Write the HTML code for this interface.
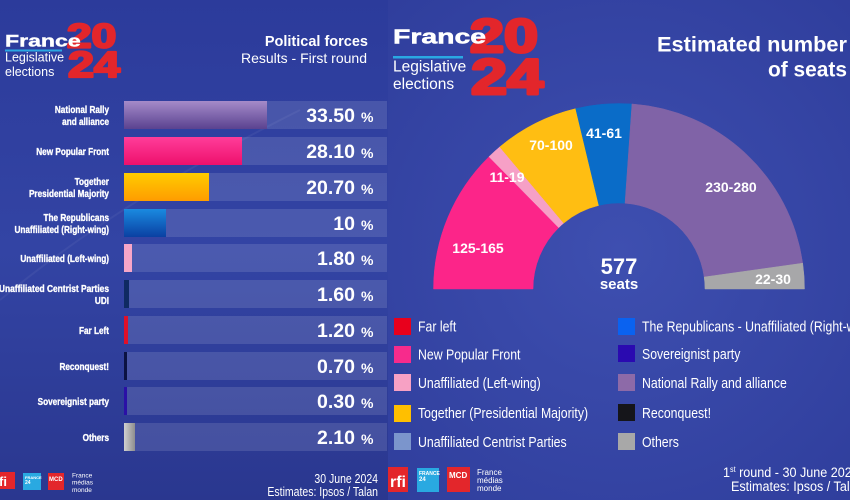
<!DOCTYPE html>
<html>
<head>
<meta charset="utf-8">
<style>
html,body{margin:0;padding:0;background:#2e3c9c;}
body{width:850px;height:500px;overflow:hidden;}
svg{display:block;}
text{font-family:"Liberation Sans",Arial,sans-serif;}
</style>
</head>
<body>
<svg width="850" height="500" viewBox="0 0 850 500" xmlns="http://www.w3.org/2000/svg">
<defs>
  <linearGradient id="bgL" x1="0" y1="0" x2="0" y2="1">
    <stop offset="0" stop-color="#2c3b9b"/>
    <stop offset="0.5" stop-color="#3344a4"/>
    <stop offset="1" stop-color="#2a378f"/>
  </linearGradient>
  <radialGradient id="bgR" cx="620" cy="250" r="420" gradientUnits="userSpaceOnUse">
    <stop offset="0" stop-color="#3e4fb0"/>
    <stop offset="1" stop-color="#2c3a98"/>
  </radialGradient>
  <linearGradient id="gNR" x1="0" y1="0" x2="0" y2="1">
    <stop offset="0" stop-color="#a58bc9"/><stop offset="1" stop-color="#5a4290"/>
  </linearGradient>
  <linearGradient id="gNPF" x1="0" y1="0" x2="0" y2="1">
    <stop offset="0" stop-color="#ff3d9a"/><stop offset="1" stop-color="#ee106c"/>
  </linearGradient>
  <linearGradient id="gTog" x1="0" y1="0" x2="0" y2="1">
    <stop offset="0" stop-color="#ffcc00"/><stop offset="1" stop-color="#ff9c00"/>
  </linearGradient>
  <linearGradient id="gLR" x1="0" y1="0" x2="0" y2="1">
    <stop offset="0" stop-color="#1a8ae0"/><stop offset="1" stop-color="#0a40a2"/>
  </linearGradient>
  <linearGradient id="gOth" x1="0" y1="0" x2="1" y2="0">
    <stop offset="0" stop-color="#d0d0d0"/><stop offset="1" stop-color="#8e8e8e"/>
  </linearGradient>
</defs>

<!-- Panels -->
<rect x="0" y="0" width="388" height="500" fill="url(#bgL)"/>
<rect x="388" y="0" width="462" height="500" fill="url(#bgR)"/>
<path d="M0,300 Q120,200 300,110" stroke="#ffffff" stroke-opacity="0.05" stroke-width="2" fill="none"/>

<!-- ===== LEFT PANEL ===== -->
<!-- Logo -->
<g font-weight="bold" fill="#e3262b" stroke="#e3262b" stroke-width="2.2" stroke-linejoin="round">
  <text transform="translate(67,47.5) scale(1.3,1)" font-size="34">20</text>
  <text transform="translate(68,77) scale(1.3,1)" font-size="36">24</text>
</g>
<text transform="translate(5,46.5) scale(1.4,1)" font-size="16.5" font-weight="bold" fill="#ffffff" stroke="#ffffff" stroke-width="0.4">France</text>
<rect x="5" y="49.5" width="57" height="2" fill="#2aa8e2"/>
<text x="5" y="61.5" font-size="12.5" fill="#ffffff">Legislative</text>
<text x="5" y="76" font-size="12.5" fill="#ffffff">elections</text>

<text x="368" y="46" font-size="14.5" font-weight="bold" fill="#ffffff" text-anchor="end">Political forces</text>
<text x="367" y="63" font-size="14" fill="#ffffff" text-anchor="end">Results - First round</text>

<!-- Tracks -->
<g fill="#ffffff" fill-opacity="0.12">
  <rect x="124" y="101" width="263" height="28"/>
  <rect x="124" y="137" width="263" height="28"/>
  <rect x="124" y="173" width="263" height="28"/>
  <rect x="124" y="209" width="263" height="28"/>
  <rect x="124" y="244" width="263" height="28"/>
  <rect x="124" y="280" width="263" height="28"/>
  <rect x="124" y="316" width="263" height="28"/>
  <rect x="124" y="352" width="263" height="28"/>
  <rect x="124" y="387" width="263" height="28"/>
  <rect x="124" y="423" width="263" height="28"/>
</g>
<!-- Bars -->
<rect x="124" y="101" width="143" height="28" fill="url(#gNR)"/>
<rect x="124" y="137" width="118" height="28" fill="url(#gNPF)"/>
<rect x="124" y="173" width="85" height="28" fill="url(#gTog)"/>
<rect x="124" y="209" width="42" height="28" fill="url(#gLR)"/>
<rect x="124" y="244" width="8" height="28" fill="#f7a6c8"/>
<rect x="124" y="280" width="5" height="28" fill="#0f2a62"/>
<rect x="124" y="316" width="4" height="28" fill="#e0102a"/>
<rect x="124" y="352" width="3" height="28" fill="#0b1242"/>
<rect x="124" y="387" width="3" height="28" fill="#2a10a6"/>
<rect x="124" y="423" width="11" height="28" fill="url(#gOth)"/>

<!-- Bar labels -->
<g font-size="10.5" font-weight="bold" fill="#ffffff" stroke="#ffffff" stroke-width="0.35" text-anchor="end">
  <text transform="translate(109,112.75) scale(0.78,1)">National Rally</text>
  <text transform="translate(109,124.75) scale(0.78,1)">and alliance</text>
  <text transform="translate(109,154.75) scale(0.78,1)">New Popular Front</text>
  <text transform="translate(109,184.75) scale(0.78,1)">Together</text>
  <text transform="translate(109,196.75) scale(0.78,1)">Presidential Majority</text>
  <text transform="translate(109,220.75) scale(0.78,1)">The Republicans</text>
  <text transform="translate(109,232.75) scale(0.78,1)">Unaffiliated (Right-wing)</text>
  <text transform="translate(109,261.75) scale(0.78,1)">Unaffiliated (Left-wing)</text>
  <text transform="translate(109,291.75) scale(0.8,1)">Unaffiliated Centrist Parties</text>
  <text transform="translate(109,303.75) scale(0.78,1)">UDI</text>
  <text transform="translate(109,333.75) scale(0.78,1)">Far Left</text>
  <text transform="translate(109,369.75) scale(0.78,1)">Reconquest!</text>
  <text transform="translate(109,404.75) scale(0.78,1)">Sovereignist party</text>
  <text transform="translate(109,440.75) scale(0.78,1)">Others</text>
</g>

<!-- Values -->
<g font-size="19.5" font-weight="bold" fill="#ffffff" text-anchor="end">
  <text x="355" y="122">33.50</text>
  <text x="355" y="158">28.10</text>
  <text x="355" y="194">20.70</text>
  <text x="355" y="230">10</text>
  <text x="355" y="265">1.80</text>
  <text x="355" y="301">1.60</text>
  <text x="355" y="337">1.20</text>
  <text x="355" y="373">0.70</text>
  <text x="355" y="408">0.30</text>
  <text x="355" y="444">2.10</text>
</g>
<g font-size="14" font-weight="bold" fill="#ffffff">
  <text x="361" y="122">%</text>
  <text x="361" y="158">%</text>
  <text x="361" y="194">%</text>
  <text x="361" y="230">%</text>
  <text x="361" y="265">%</text>
  <text x="361" y="301">%</text>
  <text x="361" y="337">%</text>
  <text x="361" y="373">%</text>
  <text x="361" y="408">%</text>
  <text x="361" y="444">%</text>
</g>

<!-- Left footer -->
<rect x="-4" y="472" width="19" height="17" fill="#e3262b"/>
<text x="-1" y="486" font-size="13" font-weight="bold" fill="#ffffff">fi</text>
<rect x="23" y="473" width="18" height="17" fill="#29a9e1"/>
<text x="25" y="479" font-size="4" font-weight="bold" fill="#ffffff">FRANCE</text>
<text x="25" y="484" font-size="5" font-weight="bold" fill="#ffffff">24</text>
<rect x="48" y="473" width="16" height="17" fill="#e3262b"/>
<text x="49" y="481" font-size="6" font-weight="bold" fill="#ffffff">MCD</text>
<g font-size="6.5" fill="#ffffff">
  <text x="72" y="477.5">France</text>
  <text x="72" y="484.5">médias</text>
  <text x="72" y="492">monde</text>
</g>
<text transform="translate(378,483) scale(0.84,1)" font-size="12.5" fill="#ffffff" text-anchor="end">30 June 2024</text>
<text transform="translate(378,496) scale(0.84,1)" font-size="12.5" fill="#ffffff" text-anchor="end">Estimates: Ipsos / Talan</text>

<!-- ===== RIGHT PANEL ===== -->
<g font-weight="bold" fill="#e3262b" stroke="#e3262b" stroke-width="3" stroke-linejoin="round">
  <text transform="translate(470,52) scale(1.3,1)" font-size="47">20</text>
  <text transform="translate(471,94) scale(1.3,1)" font-size="50">24</text>
</g>
<text transform="translate(393,43.5) scale(1.42,1)" font-size="20" font-weight="bold" fill="#ffffff" stroke="#ffffff" stroke-width="0.5">France</text>
<rect x="393" y="56" width="70" height="2.5" fill="#2aa8e2"/>
<text x="393" y="71.5" font-size="15.5" fill="#ffffff">Legislative</text>
<text x="393" y="89" font-size="15.5" fill="#ffffff">elections</text>

<text x="847" y="51.5" font-size="21" font-weight="bold" fill="#ffffff" text-anchor="end" textLength="190" lengthAdjust="spacingAndGlyphs">Estimated number</text>
<text x="847" y="76.5" font-size="21" font-weight="bold" fill="#ffffff" text-anchor="end" textLength="79" lengthAdjust="spacingAndGlyphs">of seats</text>

<!-- Hemicycle -->
<path d="M433.5,289 A185.5,185.5 0 0 1 488.98,156.69 L558.72,227.66 A86,86 0 0 0 533,289 Z" fill="#fc2589" stroke="#fc2589" stroke-width="0.5"/>
<path d="M488.98,156.69 A185.5,185.5 0 0 1 499.76,146.90 L563.72,223.12 A86,86 0 0 0 558.72,227.66 Z" fill="#f6a0c6" stroke="#f6a0c6" stroke-width="0.5"/>
<path d="M499.76,146.90 A185.5,185.5 0 0 1 575.69,108.62 L598.92,205.38 A86,86 0 0 0 563.72,223.12 Z" fill="#ffbe12" stroke="#ffbe12" stroke-width="0.5"/>
<path d="M575.69,108.62 A185.5,185.5 0 0 1 631.94,103.95 L625,203.21 A86,86 0 0 0 598.92,205.38 Z" fill="#0a6cc8" stroke="#0a6cc8" stroke-width="0.5"/>
<path d="M631.94,103.95 A185.5,185.5 0 0 1 802.70,263.18 L704.16,277.03 A86,86 0 0 0 625,203.21 Z" fill="#8063a7" stroke="#8063a7" stroke-width="0.5"/>
<path d="M802.70,263.18 A185.5,185.5 0 0 1 804.5,289 L705,289 A86,86 0 0 0 704.16,277.03 Z" fill="#a7a7a9" stroke="#a7a7a9" stroke-width="0.5"/>

<g font-size="14" font-weight="bold" fill="#ffffff" text-anchor="middle">
  <text x="478" y="253">125-165</text>
  <text x="507" y="182">11-19</text>
  <text x="551" y="150">70-100</text>
  <text x="604" y="138">41-61</text>
  <text x="731" y="192">230-280</text>
  <text x="773" y="284">22-30</text>
</g>
<text x="619" y="274" font-size="22" font-weight="bold" fill="#ffffff" text-anchor="middle">577</text>
<text x="619" y="289" font-size="15" font-weight="bold" fill="#ffffff" text-anchor="middle">seats</text>

<!-- Legend -->
<rect x="394" y="318" width="17" height="17" fill="#e8001c"/>
<rect x="394" y="346" width="17" height="17" fill="#f72b8c"/>
<rect x="394" y="374" width="17" height="17" fill="#f7a1c4"/>
<rect x="394" y="405" width="17" height="17" fill="#ffbf00"/>
<rect x="394" y="433" width="17" height="17" fill="#7b95cc"/>
<rect x="618" y="318" width="17" height="17" fill="#0a62f0"/>
<rect x="618" y="345" width="17" height="17" fill="#2a0ab0"/>
<rect x="618" y="374" width="17" height="17" fill="#8d6aa8"/>
<rect x="618" y="404" width="17" height="17" fill="#15151a"/>
<rect x="618" y="433" width="17" height="17" fill="#a8a8a8"/>
<g font-size="15" fill="#ffffff">
  <text transform="translate(418,331.5) scale(0.82,1)">Far left</text>
  <text transform="translate(418,359.5) scale(0.82,1)">New Popular Front</text>
  <text transform="translate(418,388) scale(0.82,1)">Unaffiliated (Left-wing)</text>
  <text transform="translate(418,418) scale(0.82,1)">Together (Presidential Majority)</text>
  <text transform="translate(418,447) scale(0.82,1)">Unaffiliated Centrist Parties</text>
  <text transform="translate(642,331.5) scale(0.82,1)">The Republicans - Unaffiliated (Right-wing)</text>
  <text transform="translate(642,359) scale(0.82,1)">Sovereignist party</text>
  <text transform="translate(642,388) scale(0.82,1)">National Rally and alliance</text>
  <text transform="translate(642,418) scale(0.82,1)">Reconquest!</text>
  <text transform="translate(642,447) scale(0.82,1)">Others</text>
</g>

<!-- Right footer -->
<rect x="388" y="467" width="20" height="25" fill="#e3262b"/>
<text x="390" y="487" font-size="16" font-weight="bold" fill="#ffffff">rfi</text>
<rect x="417" y="468" width="22" height="24" fill="#29a9e1"/>
<text x="419" y="475" font-size="5" font-weight="bold" fill="#ffffff">FRANCE</text>
<text x="419" y="481" font-size="6" font-weight="bold" fill="#ffffff">24</text>
<rect x="447" y="467" width="23" height="25" fill="#e3262b"/>
<text x="449" y="478" font-size="8" font-weight="bold" fill="#ffffff">MCD</text>
<g font-size="8" fill="#ffffff">
  <text x="477" y="475">France</text>
  <text x="477" y="483">médias</text>
  <text x="477" y="491">monde</text>
</g>
<text transform="translate(723,477) scale(0.9,1)" font-size="14" fill="#ffffff">1<tspan font-size="8" dy="-5">st</tspan><tspan dy="5"> round - 30 June 2024</tspan></text>
<text transform="translate(731,491) scale(0.9,1)" font-size="14" fill="#ffffff">Estimates: Ipsos / Talan</text>
</svg>
</body>
</html>
